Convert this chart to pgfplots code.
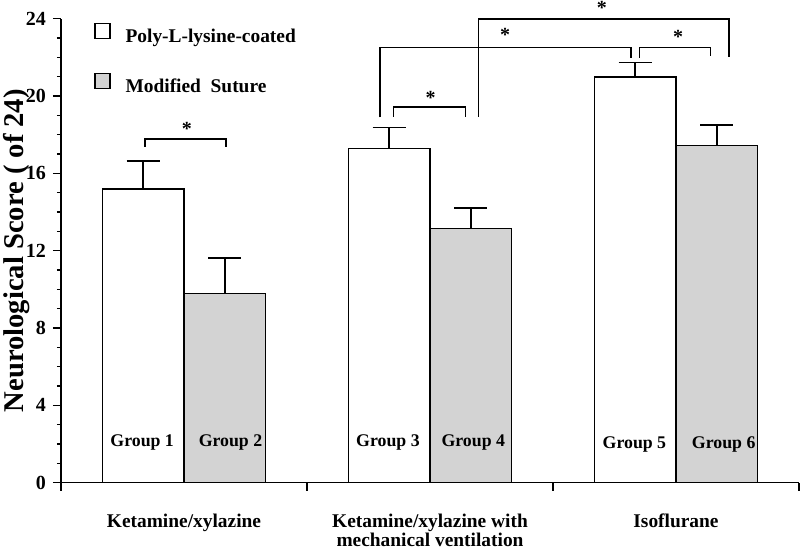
\documentclass[border=0pt]{standalone}
\usepackage{fontspec}
\setmainfont{Liberation Serif}
\usepackage{pgfplots}
\pgfplotsset{compat=1.18}
\definecolor{barGray}{RGB}{211,211,211}

\begin{document}
\begin{tikzpicture}
\begin{axis}[
  scale only axis,
  width=369pt, height=232pt,
  xmin=0, xmax=3, ymin=0, ymax=24,
  axis x line*=bottom, axis y line*=left,
  axis line style={-, line width=0.8pt},
  ytick={0,4,...,24},
  minor y tick num=3,
  tick align=outside,
  major tick length=4pt, minor tick length=2pt,
  tick style={line width=0.8pt, black},
  xtick={0,1,2,3},
  x tick label as interval,
  xticklabels={Ketamine/xylazine, {Ketamine/xylazine with\\mechanical ventilation}, Isoflurane},
  xticklabel style={align=center, font=\bfseries\fontsize{9.7}{9.8}\selectfont, yshift=-8pt},
  yticklabel style={font=\bfseries\fontsize{10}{12}\selectfont},
  /pgf/number format/assume math mode=true,
  ylabel={Neurological Score ( of 24)},
  every axis y label/.style={at={(axis description cs:-0.0596,0.5)}, rotate=90, anchor=center,
    font=\bfseries\fontsize{14.3}{16}\selectfont},
  ybar, bar width=0.332,
  clip=false,
  legend image code/.code={\draw[#1, line width=0.8pt] (0pt,-0.5pt) rectangle (7.5pt,7pt);},
  legend cell align=left,
  legend style={at={(rel axis cs:0.0447,0.9914)}, anchor=north west, draw=none, fill=none,
    inner sep=0pt, outer sep=0pt, row sep=13.4pt,
    font=\bfseries\fontsize{9.7}{11}\selectfont,
    nodes={inner sep=0pt},
    /tikz/every odd column/.append style={column sep=7.5pt}},
  error bars/y dir=plus, error bars/y explicit,
  error bars/error mark=|,
  error bars/error bar style={line width=0.8pt, black},
  error bars/error mark options={mark size=8.25pt, line width=0.8pt, black},
]
% Poly-L-lysine-coated (groups 1, 3, 5)
\addplot[fill=white, draw=black, line width=0.8pt, bar shift=-0.166]
  coordinates {(0.5,15.18) +- (0,1.46) (1.5,17.28) +- (0,1.09) (2.5,20.97) +- (0,0.76)};
% Modified suture (groups 2, 4, 6)
\addplot[fill=barGray, draw=black, line width=0.8pt, bar shift=0.166]
  coordinates {(0.5,9.78) +- (0,1.84) (1.5,13.14) +- (0,1.07) (2.5,17.45) +- (0,1.05)};
\legend{Poly-L-lysine-coated, Modified\ \ Suture}

% group names inside the bars
\begin{scope}[font=\bfseries\fontsize{8.9}{10}\selectfont]
\node at (axis cs:0.330,2.1) {Group 1};
\node at (axis cs:0.689,2.1) {Group 2};
\node at (axis cs:1.329,2.1) {Group 3};
\node at (axis cs:1.676,2.1) {Group 4};
\node at (axis cs:2.331,2.0) {Group 5};
\node at (axis cs:2.694,2.0) {Group 6};
\end{scope}

% significance brackets
\begin{scope}[line width=0.7pt]
\draw (axis cs:0.341,17.37) |- (axis cs:0.670,17.78) -- (axis cs:0.670,17.37);
\draw (axis cs:1.352,18.93) |- (axis cs:1.645,19.44) -- (axis cs:1.645,18.93);
\draw (axis cs:1.297,18.90) |- (axis cs:2.317,22.50) -- (axis cs:2.317,21.99);
\draw (axis cs:2.351,21.99) |- (axis cs:2.641,22.50) -- (axis cs:2.641,22.07);
\draw (axis cs:1.698,18.93) |- (axis cs:2.715,23.99) -- (axis cs:2.715,22.04);
\end{scope}
\begin{scope}[font=\bfseries\fontsize{10}{12}\selectfont, yshift=-1pt]
\node at (axis cs:0.512,18.4) {*};
\node at (axis cs:1.503,20.0) {*};
\node at (axis cs:1.805,23.25) {*};
\node at (axis cs:2.509,23.16) {*};
\node at (axis cs:2.199,24.68) {*};
\end{scope}
\coordinate (o) at (axis cs:0,0);
\end{axis}
\pgfresetboundingbox
\path[use as bounding box] (o) ++(-30.5pt,-34.65pt) rectangle ++(400pt,276pt);
\end{tikzpicture}
\end{document}
